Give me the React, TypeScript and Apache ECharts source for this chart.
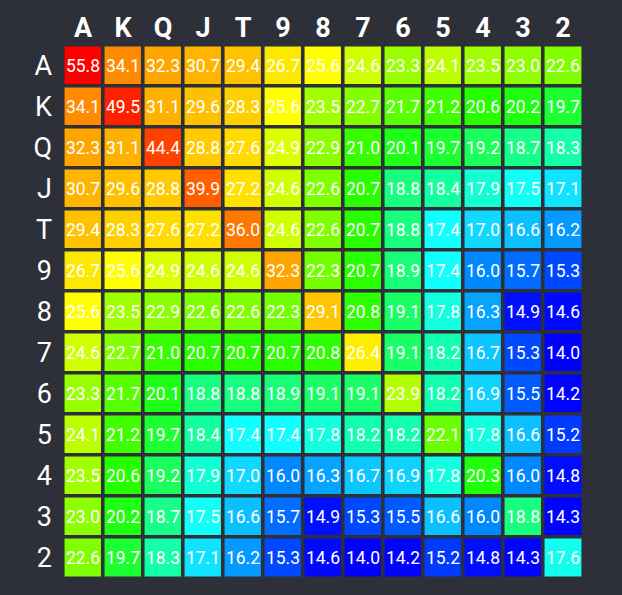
import React, { useEffect, useRef } from "react";
import * as echarts from "echarts";

const ranks = ["A", "K", "Q", "J", "T", "9", "8", "7", "6", "5", "4", "3", "2"];

const rowA = [55.8, 34.1, 32.3, 30.7, 29.4, 26.7, 25.6, 24.6, 23.3, 24.1, 23.5, 23.0, 22.6];
const rowK = [34.1, 49.5, 31.1, 29.6, 28.3, 25.6, 23.5, 22.7, 21.7, 21.2, 20.6, 20.2, 19.7];
const rowQ = [32.3, 31.1, 44.4, 28.8, 27.6, 24.9, 22.9, 21.0, 20.1, 19.7, 19.2, 18.7, 18.3];
const rowJ = [30.7, 29.6, 28.8, 39.9, 27.2, 24.6, 22.6, 20.7, 18.8, 18.4, 17.9, 17.5, 17.1];
const rowT = [29.4, 28.3, 27.6, 27.2, 36.0, 24.6, 22.6, 20.7, 18.8, 17.4, 17.0, 16.6, 16.2];
const row9 = [26.7, 25.6, 24.9, 24.6, 24.6, 32.3, 22.3, 20.7, 18.9, 17.4, 16.0, 15.7, 15.3];
const row8 = [25.6, 23.5, 22.9, 22.6, 22.6, 22.3, 29.1, 20.8, 19.1, 17.8, 16.3, 14.9, 14.6];
const row7 = [24.6, 22.7, 21.0, 20.7, 20.7, 20.7, 20.8, 26.4, 19.1, 18.2, 16.7, 15.3, 14.0];
const row6 = [23.3, 21.7, 20.1, 18.8, 18.8, 18.9, 19.1, 19.1, 23.9, 18.2, 16.9, 15.5, 14.2];
const row5 = [24.1, 21.2, 19.7, 18.4, 17.4, 17.4, 17.8, 18.2, 18.2, 22.1, 17.8, 16.6, 15.2];
const row4 = [23.5, 20.6, 19.2, 17.9, 17.0, 16.0, 16.3, 16.7, 16.9, 17.8, 20.3, 16.0, 14.8];
const row3 = [23.0, 20.2, 18.7, 17.5, 16.6, 15.7, 14.9, 15.3, 15.5, 16.6, 16.0, 18.8, 14.3];
const row2 = [22.6, 19.7, 18.3, 17.1, 16.2, 15.3, 14.6, 14.0, 14.2, 15.2, 14.8, 14.3, 17.6];

const rows = [rowA, rowK, rowQ, rowJ, rowT, row9, row8, row7, row6, row5, row4, row3, row2];

// colour scale stops (value -> colour)
const colorStops: [number, string][] = [
  [14.0, "#0000ff"],
  [14.6, "#0008ff"],
  [14.9, "#0010ff"],
  [15.3, "#0048ff"],
  [16.0, "#0088ff"],
  [16.6, "#0cbfff"],
  [17.0, "#10d8ff"],
  [17.4, "#12ffff"],
  [17.8, "#12ffe0"],
  [18.2, "#12ffb0"],
  [18.8, "#18ff80"],
  [19.7, "#1cff30"],
  [20.5, "#20ff00"],
  [21.2, "#40ff00"],
  [22.6, "#80ff00"],
  [23.5, "#a0ff00"],
  [24.1, "#bbff00"],
  [24.6, "#d0ff00"],
  [25.6, "#ffff00"],
  [26.7, "#ffe800"],
  [28.3, "#ffd000"],
  [29.6, "#ffc000"],
  [32.3, "#ffa500"],
  [34.1, "#ff8c00"],
  [36.0, "#ff7800"],
  [39.9, "#ff5f00"],
  [44.4, "#ff4200"],
  [49.5, "#ff2000"],
  [55.8, "#ff0000"],
];

function hexToRgb(h: string): number[] {
  return [parseInt(h.slice(1, 3), 16), parseInt(h.slice(3, 5), 16), parseInt(h.slice(5, 7), 16)];
}

function colorFor(v: number): string {
  if (v <= colorStops[0][0]) return colorStops[0][1];
  for (let i = 1; i < colorStops.length; i++) {
    const [v1, c1] = colorStops[i];
    if (v <= v1) {
      const [v0, c0] = colorStops[i - 1];
      const t = (v - v0) / (v1 - v0);
      const a = hexToRgb(c0);
      const b = hexToRgb(c1);
      const m = a.map((x, k) => Math.round(x + (b[k] - x) * t));
      return `rgb(${m[0]},${m[1]},${m[2]})`;
    }
  }
  return colorStops[colorStops.length - 1][1];
}

const BG = "#2d3038";

export default function App() {
  const ref = useRef<HTMLDivElement>(null);
  useEffect(() => {
    document.body.style.margin = "0";
    const chart = echarts.init(ref.current!, undefined, { renderer: "svg" });
    const data: number[][] = [];
    rows.forEach((row, r) => {
      row.forEach((v, c) => {
        data.push([c, r, v]);
      });
    });
    const vMin = colorStops[0][0];
    const vMax = colorStops[colorStops.length - 1][0];
    const steps = 836;
    const sampled: string[] = [];
    for (let i = 0; i <= steps; i++) sampled.push(colorFor(vMin + ((vMax - vMin) * i) / steps));
    chart.setOption({
      animation: false,
      backgroundColor: BG,
      textStyle: { fontFamily: "Roboto" },
      grid: { left: 63, top: 45, width: 520, height: 533 },
      visualMap: {
        show: false,
        type: "continuous",
        dimension: 2,
        min: vMin,
        max: vMax,
        inRange: { color: sampled },
      },
      xAxis: {
        type: "category",
        position: "top",
        data: ranks,
        axisLine: { show: false },
        axisTick: { show: false },
        splitLine: { show: false },
        axisLabel: { color: "#ffffff", fontSize: 27, fontWeight: "bold", fontFamily: "Roboto", margin: 4 },
      },
      yAxis: {
        type: "category",
        inverse: true,
        data: ranks,
        axisLine: { show: false },
        axisTick: { show: false },
        splitLine: { show: false },
        axisLabel: { color: "#ffffff", fontSize: 27, fontFamily: "Roboto", margin: 11 },
      },
      series: [
        {
          type: "heatmap",
          data,
          itemStyle: { borderColor: BG, borderWidth: 3.6 },
          label: {
            show: true,
            color: "#ffffff",
            fontSize: 17.5,
            fontFamily: "Roboto",
            formatter: (p: any) => p.value[2].toFixed(1),
          },
          emphasis: { disabled: true },
        },
      ],
    });
    return () => chart.dispose();
  }, []);
  return <div ref={ref} style={{ width: 622, height: 595 }} />;
}
